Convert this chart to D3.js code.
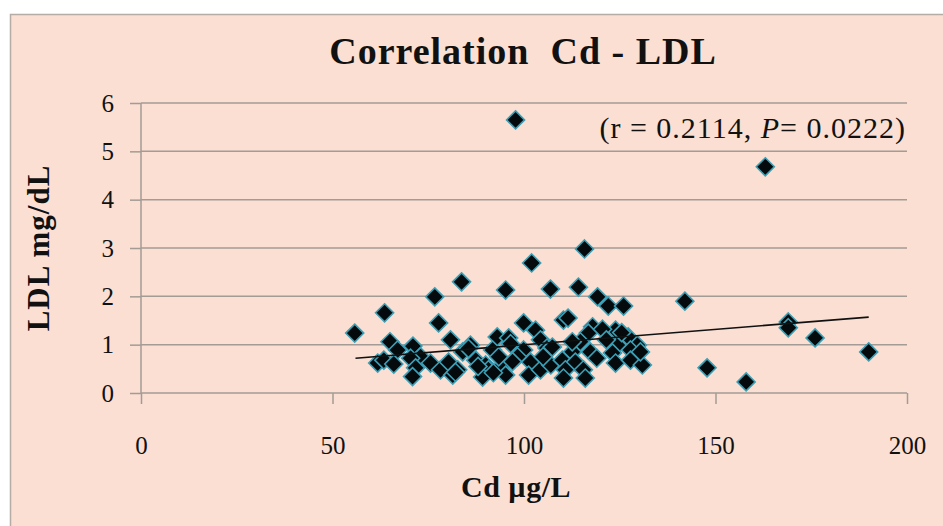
<!DOCTYPE html>
<html>
<head>
<meta charset="utf-8">
<script src="https://cdn.jsdelivr.net/npm/d3@7"></script>
<style>
  body { margin: 0; background: #fff; }
  svg { display: block; font-family: "Liberation Serif", "DejaVu Serif", serif; }
</style>
</head>
<body>
<svg id="chart" width="943" height="526"></svg>
<script>
// Cd (µg/L) and LDL (mg/dL) pairs
const cdValues = [
  97.8, 163, 115.8, 102, 83.7, 95.2, 106.9, 114.2, 76.7, 119.2, 122, 126, 142, 63.6, 55.8, 77.7,
  169, 169, 176, 190, 147.8, 158,
  80.8, 65, 71, 67, 73, 61.8, 63.4, 70.4, 75.6, 71.7, 70.9, 78.2, 80.3, 81.4, 82.7,
  99.9, 103, 86, 84, 93, 96, 91.8, 87.4, 90, 90.7, 94.4, 95.2, 89.2, 82.1, 99.9, 104.3,
  106, 101.7, 101.2, 104.3, 107, 98.3, 93.4,
  110.3, 117.9, 116.8, 123.9, 127.2, 114.7, 124.4, 129.6, 107.4, 112.6, 117.3, 123.1,
  127.8, 110, 113.4, 123.9, 127.8, 130.9, 110.8, 115.5, 110.3, 116,
  111.5, 120.5, 125.5, 88, 92, 97, 105, 119, 121.5, 66, 112.6, 130.4, 85.5, 96.5
];
const ldlValues = [
  5.65, 4.68, 2.98, 2.69, 2.30, 2.13, 2.15, 2.19, 1.99, 1.99, 1.80, 1.80, 1.90, 1.66, 1.24, 1.45,
  1.47, 1.35, 1.14, 0.85, 0.52, 0.23,
  1.10, 1.06, 0.97, 0.89, 0.75, 0.62, 0.68, 0.72, 0.62, 0.52, 0.34, 0.48, 0.64, 0.37, 0.48,
  1.45, 1.30, 0.99, 0.85, 1.16, 1.14, 0.89, 0.68, 0.58, 0.48, 0.58, 0.37, 0.33, 0.43, 0.89, 1.10,
  0.93, 0.64, 0.37, 0.48, 0.58, 0.75, 0.75,
  1.51, 1.37, 1.24, 1.30, 1.16, 1.06, 0.99, 0.99, 0.95, 0.85, 0.85, 0.83,
  0.89, 0.68, 0.64, 0.62, 0.68, 0.58, 0.48, 0.48, 0.31, 0.31,
  1.55, 1.32, 1.25, 0.55, 0.42, 0.65, 0.75, 0.72, 1.10, 0.60, 1.06, 0.85, 0.92, 1.02
];

// linear trend line ends as drawn in the picture
const trendX = [56, 190];
const trendY = [0.72, 1.57];

const xTicks = [0, 50, 100, 150, 200];
const yTicks = [0, 1, 2, 3, 4, 5, 6];

const svg = d3.select("#chart");

// chart area background with thin frame
svg.append("rect")
  .attr("x", 10.5)
  .attr("y", 14.5)
  .attr("width", 940)
  .attr("height", 520)
  .attr("fill", "#fadfd2")
  .attr("stroke", "#b5aca6")
  .attr("stroke-width", 1.5);

const x = d3.scaleLinear().domain([0, 200]).range([141, 907]);
const y = d3.scaleLinear().domain([0, 6]).range([393, 103]);

const gridColor = "#a39b95";

// horizontal gridlines
svg.append("g")
  .selectAll("line")
  .data(yTicks.filter((t) => t > 0))
  .enter()
  .append("line")
  .attr("x1", x(0))
  .attr("x2", x(200))
  .attr("y1", (d) => y(d))
  .attr("y2", (d) => y(d))
  .attr("stroke", gridColor)
  .attr("stroke-width", 1.5);

const yAxis = svg.append("g")
  .attr("transform", `translate(${x(0)},0)`)
  .call(d3.axisLeft(y).tickValues(yTicks).tickSize(11).tickPadding(16).tickFormat(d3.format("d")));

const xAxis = svg.append("g")
  .attr("transform", `translate(0,${y(0)})`)
  .call(d3.axisBottom(x).tickValues(xTicks).tickSize(11).tickPadding(32).tickSizeOuter(0).tickFormat(d3.format("d")));

[yAxis, xAxis].forEach((a) => {
  a.select(".domain").attr("stroke", gridColor).attr("stroke-width", 1.5);
  a.selectAll(".tick line").attr("stroke", gridColor).attr("stroke-width", 1.5);
  a.selectAll(".tick text")
    .attr("fill", "#111")
    .style("font-size", "25px")
    .style("font-family", "Liberation Serif, serif");
});

// y axis domain: remove outer tick stub
yAxis.select(".domain").attr("d", `M0,${y(6)}V${y(0)}`);
xAxis.select(".domain").attr("d", `M${x(0)},0H${x(200)}`);

// diamond markers
const diamond = "M0,-9L9,0L0,9L-9,0Z";
svg.append("g")
  .selectAll("path")
  .data(d3.range(cdValues.length))
  .enter()
  .append("path")
  .attr("d", diamond)
  .attr("transform", (i) => `translate(${x(cdValues[i])},${y(ldlValues[i])})`)
  .attr("fill", "#050a0c")
  .attr("stroke", "#3b9fb6")
  .attr("stroke-width", 1.6);

// trend line on top of markers, like in the picture
svg.append("line")
  .attr("x1", x(trendX[0]))
  .attr("y1", y(trendY[0]))
  .attr("x2", x(trendX[1]))
  .attr("y2", y(trendY[1]))
  .attr("stroke", "#111")
  .attr("stroke-width", 1.6);

// title
svg.append("text")
  .attr("x", 523)
  .attr("y", 64)
  .attr("text-anchor", "middle")
  .attr("font-weight", "bold")
  .attr("font-size", 38)
  .attr("letter-spacing", 1)
  .attr("fill", "#111")
  .attr("xml:space", "preserve")
  .style("white-space", "pre")
  .text("Correlation  Cd - LDL");

// axis titles
svg.append("text")
  .attr("x", 516)
  .attr("y", 497)
  .attr("text-anchor", "middle")
  .attr("font-weight", "bold")
  .attr("font-size", 30)
  .attr("letter-spacing", 0.5)
  .attr("fill", "#111")
  .text("Cd µg/L");

svg.append("text")
  .attr("transform", "translate(49,248) rotate(-90)")
  .attr("text-anchor", "middle")
  .attr("font-weight", "bold")
  .attr("font-size", 31)
  .attr("letter-spacing", 1)
  .attr("fill", "#111")
  .text("LDL mg/dL");

// correlation note
const note = svg.append("text")
  .attr("x", 906)
  .attr("y", 138)
  .attr("text-anchor", "end")
  .attr("font-size", 30)
  .attr("letter-spacing", 1)
  .attr("fill", "#111");
note.append("tspan").text("(r = 0.2114, ");
note.append("tspan").attr("font-style", "italic").text("P");
note.append("tspan").text("= 0.0222)");
</script>
</body>
</html>
